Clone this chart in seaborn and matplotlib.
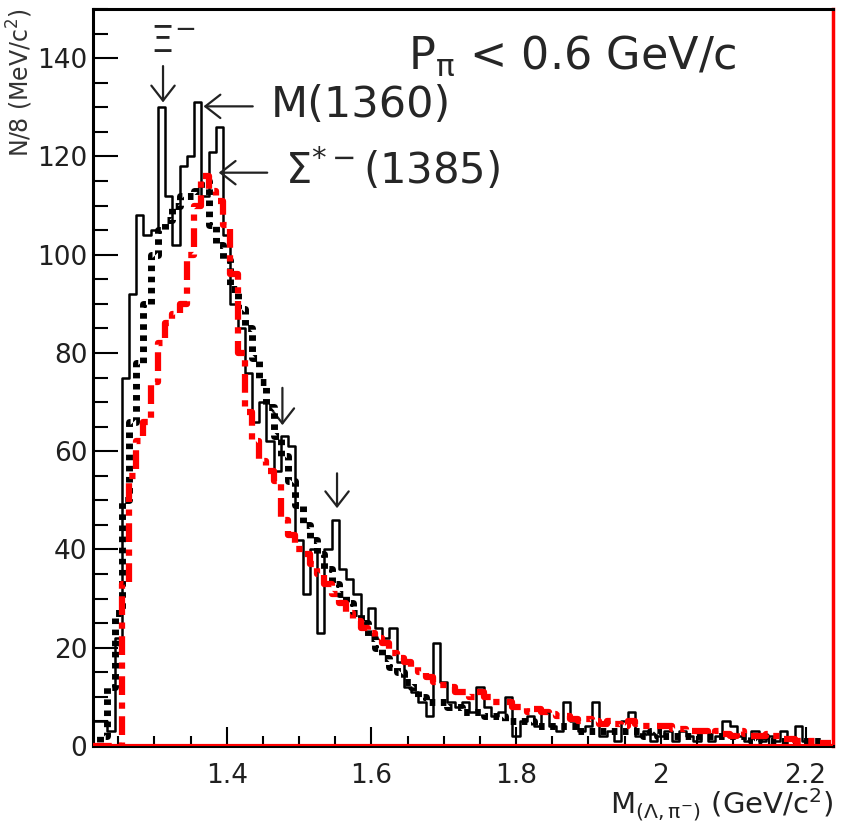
import numpy as np
import pandas as pd
import matplotlib
matplotlib.use("Agg")
import matplotlib.pyplot as plt
import seaborn as sns
from matplotlib.ticker import MultipleLocator, FixedLocator, FixedFormatter

# ------------------------------------------------------------------
# Data: invariant mass M(Lambda, pi-) histograms, 0.01 GeV/c^2 bins
# ------------------------------------------------------------------
first_edge = 1.215
bin_width = 0.01
n_bins = 102

# thin solid black histogram (experimental)
counts_solid = [
    5, 5, 3, 22, 75, 92, 108, 104, 105, 130,
    112, 102, 118, 120, 131, 112, 121, 126, 104, 90,
    85, 76, 66, 70, 62, 56, 63, 61, 42, 31,
    40, 23, 40, 46, 36, 34, 31, 25, 28, 24,
    22, 24, 17, 12, 11, 9, 6, 21, 13, 9,
    8, 9, 7, 12, 8, 6, 7, 10, 2, 5,
    6, 4, 7, 4, 3, 9, 5, 3, 4, 9,
    2, 3, 1, 5, 7, 2, 3, 1, 2, 3,
    1, 3, 2, 1, 3, 1, 2, 5, 4, 2,
    1, 3, 1, 2, 1, 3, 0, 4, 1, 0,
    0, 0,
]

# thick dotted black histogram (background)
counts_dotted = [
    0, 2, 12, 27, 50, 66, 78, 90, 100, 105,
    107, 110, 112, 112, 113, 115, 106, 102, 99, 93,
    89, 85, 79, 74, 69, 63, 59, 54, 49, 45,
    42, 39, 36, 33, 31, 29, 27, 25, 22, 20,
    18, 16, 15, 13, 12, 10, 9, 9, 9, 8,
    8, 7, 7, 7, 6, 6, 6, 5, 5, 5,
    5, 4, 4, 4, 4, 4, 4, 3, 3, 3,
    3, 3, 3, 3, 3, 3, 2, 3, 2, 2,
    2, 2, 2, 2, 2, 2, 2, 2, 2, 2,
    2, 1, 2, 1, 1, 1, 1, 1, 1, 1,
    1, 0,
]

# thick red dash-dot histogram (background, other method)
counts_red = [
    0, 0, 0, 0, 33, 55, 62, 66, 74, 82,
    86, 88, 90, 100, 110, 116, 113, 111, 106, 96,
    80, 68, 62, 58, 56, 54, 46, 43, 40, 39,
    37, 35, 33, 31, 29, 27, 25.5, 24, 23, 22,
    21, 19, 18, 17, 16, 15, 14, 13, 12.5, 12,
    11, 11, 10, 11, 10, 9, 9, 9, 8, 8,
    7, 7.5, 7, 6.5, 6, 6, 5.5, 5, 5.5, 5,
    4.5, 5, 4.5, 4, 5, 4.5, 4, 4, 4, 4,
    3.5, 3.5, 3, 3, 3, 2.5, 3, 2.5, 2, 3,
    2.5, 2, 2, 2.5, 2, 1.5, 1.5, 1, 1, 1,
    0.5, 0.5,
]

x_major = [1.4, 1.6, 1.8, 2.0, 2.2]
x_major_labels = ["1.4", "1.6", "1.8", "2", "2.2"]

edges = np.round(first_edge + bin_width * np.arange(n_bins + 1), 3)
centers = edges[:-1] + bin_width / 2

df = pd.DataFrame({
    "mass": centers,
    "solid": counts_solid,
    "dotted": counts_dotted,
    "red": counts_red,
})

sns.set_theme(style="ticks")
plt.rcParams.update({
    "font.family": "DejaVu Sans",
    "mathtext.fontset": "dejavusans",
})

fig, ax = plt.subplots(figsize=(8.44, 8.27), dpi=100)
fig.subplots_adjust(left=0.110, right=0.987, bottom=0.098, top=0.989)

sns.histplot(data=df, x="mass", weights="solid", bins=list(edges), element="step",
             fill=False, color="black", linewidth=1.8, ax=ax, zorder=3)
sns.histplot(data=df, x="mass", weights="dotted", bins=list(edges), element="step",
             fill=False, color="black", linewidth=5, linestyle=(0, (0.8, 0.8)),
             ax=ax, zorder=4)
sns.histplot(data=df, x="mass", weights="red", bins=list(edges), element="step",
             fill=False, color="red", linewidth=4.5, linestyle=(0, (3, 1.2, 1, 1.2)),
             ax=ax, zorder=5)

ax.axhline(0, color="red", lw=3, zorder=6)

ax.set_xlim(1.215, 2.238)
ax.set_ylim(0, 150)

# ticks, ROOT style (inside)
ax.xaxis.set_major_locator(FixedLocator(x_major))
ax.xaxis.set_major_formatter(FixedFormatter(x_major_labels))
ax.xaxis.set_minor_locator(MultipleLocator(0.05))
ax.yaxis.set_major_locator(MultipleLocator(20))
ax.yaxis.set_minor_locator(MultipleLocator(5))
ax.tick_params(which="both", direction="in", top=False, right=False,
               width=1.5, color="black", labelcolor="#202020")
ax.tick_params(axis="y", which="major", length=18, pad=4, labelsize=19)
ax.tick_params(axis="y", which="minor", length=11)
ax.tick_params(axis="x", which="major", length=14, pad=12, labelsize=19)
ax.tick_params(axis="x", which="minor", length=7)

for side in ["left", "top", "bottom"]:
    ax.spines[side].set_color("black")
    ax.spines[side].set_linewidth(2.2)
ax.spines["right"].set_color("red")
ax.spines["right"].set_linewidth(2.5)

ax.set_xlabel("")
ax.set_ylabel("")
fig.text(0.024, 0.99, r"N/8 (MeV/c$^2$)", rotation=90, ha="center", va="top",
         fontsize=17, color="#333333")
fig.text(0.987, 0.027, r"M$_{(\Lambda,\mathrm{\pi}^{-})}$ (GeV/c$^2$)", ha="right",
         va="center", fontsize=21, color="#222222")

# labels and arrows
ax.text(1.294, 141.2, r"$\Xi^{-}$", fontsize=27, ha="left", va="baseline")
ax.text(1.4604, 128, "M(1360)", fontsize=31, va="baseline")
ax.text(1.481, 114.3, r"$\Sigma^{*-}$(1385)", fontsize=30, va="baseline")
ax.text(1.651, 137.8, r"P$_{\mathrm{\pi}}$ < 0.6 GeV/c", fontsize=32, va="baseline")

arrow_kw = dict(arrowstyle="->,head_length=0.9,head_width=0.7", lw=1.6,
                color="#222222", shrinkA=0, shrinkB=0)
ax.annotate("", xy=(1.312, 131), xytext=(1.312, 138.4), arrowprops=arrow_kw)
ax.annotate("", xy=(1.368, 130.2), xytext=(1.436, 130.2), arrowprops=arrow_kw)
ax.annotate("", xy=(1.389, 116.7), xytext=(1.456, 116.7), arrowprops=arrow_kw)
ax.annotate("", xy=(1.477, 65.3), xytext=(1.477, 72.9), arrowprops=arrow_kw)
ax.annotate("", xy=(1.5525, 48.4), xytext=(1.5525, 55.5), arrowprops=arrow_kw)

fig.savefig("out.png", dpi=100)
